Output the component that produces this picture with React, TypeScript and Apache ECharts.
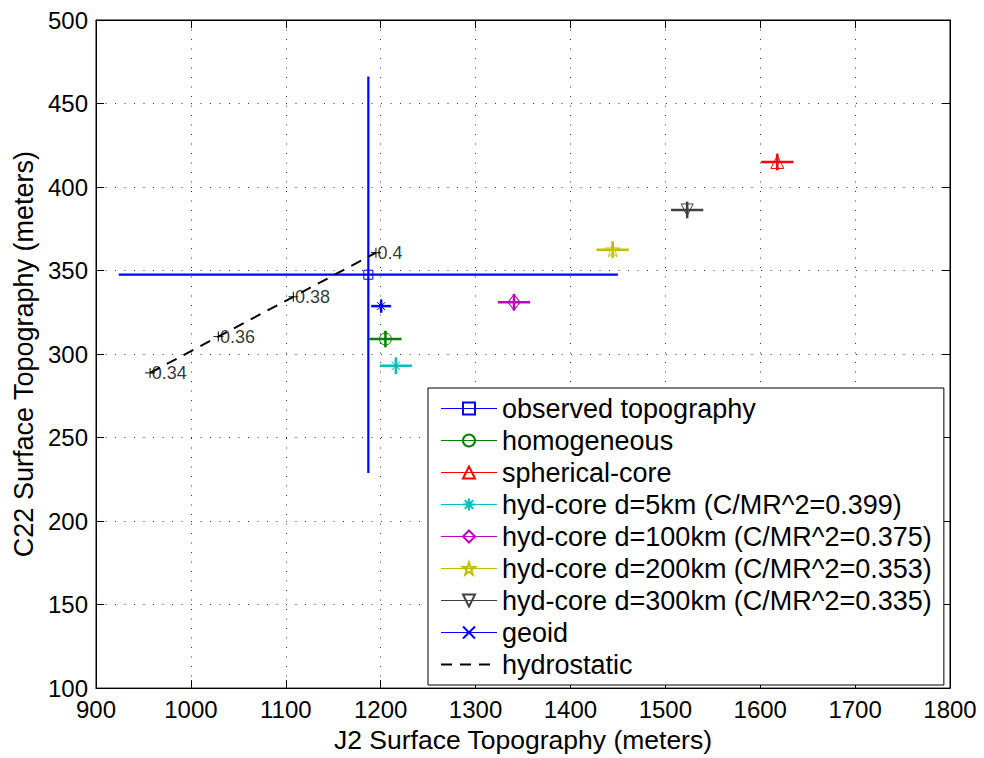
import React, { useEffect, useRef } from "react";
import * as echarts from "echarts";

const FONT = "'Liberation Sans', Arial, Helvetica, sans-serif";

// Model / observation points (J2 topography, C22 topography, errors)
const seriesNames = [
  "observed topography",
  "homogeneous",
  "spherical-core",
  "hyd-core d=5km (C/MR^2=0.399)",
  "hyd-core d=100km (C/MR^2=0.375)",
  "hyd-core d=200km (C/MR^2=0.353)",
  "hyd-core d=300km (C/MR^2=0.335)",
  "geoid",
];
const j2Values = [1187, 1205, 1618, 1216, 1340.5, 1444.5, 1523, 1200.5];
const c22Values = [347.5, 309, 415, 293, 331, 362.5, 386.3, 328.7];
const j2Errors = [263, 17, 17, 17, 17, 17, 17, 10.5];
const c22Errors = [118.7, 5, 5, 5, 5, 5, 5, 4];
const seriesColors = ["#0000ff", "#008000", "#ff0000", "#00bfbf", "#bf00bf", "#bfbf00", "#404040", "#0000ff"];

// Hydrostatic curve
const hydroName = "hydrostatic";
const hydroJ2 = [957, 1029, 1108, 1195];
const hydroC22 = [288.7, 310.5, 334.3, 360.7];
const hydroLabels = ["0.34", "0.36", "0.38", "0.4"];

// Axes
const X_MIN = 900, X_MAX = 1800, X_STEP = 100;
const Y_MIN = 100, Y_MAX = 500, Y_STEP = 50;

const SYM_ASTERISK = "path://M5,0L5,10M0,5L10,5M1.5,1.5L8.5,8.5M8.5,1.5L1.5,8.5";
const SYM_X = "path://M0,0L10,10M10,0L0,10";
const SYM_PLUS = "path://M5,0L5,10M0,5L10,5";
const SYM_DOWN = "path://M0,0L10,0L5,8.66Z";
const SYM_STAR =
  "path://M50,0L61.2,34.5L97.6,34.5L68.2,55.9L79.4,90.5L50,69.1L20.6,90.5L31.8,55.9L2.4,34.5L38.8,34.5Z";

const symbols: any[] = ["rect", "circle", "triangle", SYM_ASTERISK, "diamond", SYM_STAR, SYM_DOWN, SYM_X];
const symbolSizes: any[] = [9, 12, 13, 12, [12, 16], 14, 12, 8];

export default function App() {
  const ref = useRef<HTMLDivElement>(null);
  useEffect(() => {
    if (!ref.current) return;
    const chart = echarts.init(ref.current, undefined, { renderer: "svg" });

    const errorSeries = seriesNames.map((n, i) => ({
      type: "custom",
      name: "err-" + i,
      xAxisIndex: 0,
      yAxisIndex: 0,
      z: 2,
      silent: true,
      data: [[j2Values[i], c22Values[i], j2Errors[i], c22Errors[i]]],
      renderItem: (_p: any, api: any) => {
        const x = api.value(0), y = api.value(1), ex = api.value(2), ey = api.value(3);
        const l = api.coord([x - ex, y]);
        const r = api.coord([x + ex, y]);
        const t = api.coord([x, y + ey]);
        const b = api.coord([x, y - ey]);
        const w = i === 0 ? 2.2 : 2.5;
        return {
          type: "group",
          children: [
            { type: "line", shape: { x1: l[0], y1: l[1], x2: r[0], y2: r[1] }, style: { stroke: seriesColors[i], lineWidth: w } },
            { type: "line", shape: { x1: t[0], y1: t[1], x2: b[0], y2: b[1] }, style: { stroke: seriesColors[i], lineWidth: w } },
          ],
        };
      },
    }));

    const markerSeries = seriesNames.map((n, i) => ({
      type: "line",
      name: n,
      z: 3,
      data: [[j2Values[i], c22Values[i]]],
      symbol: symbols[i],
      symbolSize: symbolSizes[i],
      showSymbol: true,
      lineStyle: { color: seriesColors[i], width: 1 },
      itemStyle: { color: "rgba(0,0,0,0)", borderColor: seriesColors[i], borderWidth: 1 },
    }));

    const hydroLine = {
      type: "line",
      name: hydroName,
      z: 2,
      symbol: "none",
      data: hydroJ2.map((x, i) => [x, hydroC22[i]]),
      lineStyle: { color: "#000", width: 2, type: [11, 8] },
      itemStyle: { color: "#000" },
    };

    const hydroMarks = {
      type: "scatter",
      name: "hydro-marks",
      z: 4,
      symbol: SYM_PLUS,
      symbolSize: 10,
      itemStyle: { color: "rgba(0,0,0,0)", borderColor: "#000", borderWidth: 1.2 },
      data: hydroJ2.map((x, i) => ({ name: hydroLabels[i], value: [x, hydroC22[i]] })),
      label: {
        show: true,
        position: "right",
        distance: -4,
        formatter: "{b}",
        fontFamily: FONT,
        fontSize: 18,
        color: "#000",
      },
    };

    const axisCommon = {
      axisLine: { show: true, lineStyle: { color: "#000", width: 1 } },
      axisTick: { show: true, inside: true, length: 8, lineStyle: { color: "#000" } },
    };

    chart.setOption({
      animation: false,
      backgroundColor: "#fff",
      grid: { left: 96, right: 34, top: 20, bottom: 66, show: true, borderColor: "#000", borderWidth: 1, backgroundColor: "transparent" },
      xAxis: [
        {
          type: "value",
          min: X_MIN,
          max: X_MAX,
          interval: X_STEP,
          position: "bottom",
          ...axisCommon,
          axisLabel: { fontFamily: FONT, fontSize: 24, color: "#000", margin: 9, formatter: (v: number) => String(v) },
          splitLine: { show: true, lineStyle: { color: "#333", width: 1, type: [1, 8.5] } },
          name: "J2 Surface Topography (meters)",
          nameLocation: "middle",
          nameGap: 29,
          nameTextStyle: { fontFamily: FONT, fontSize: 26.5, color: "#000" },
        },
        {
          type: "value",
          min: X_MIN,
          max: X_MAX,
          interval: X_STEP,
          position: "top",
          ...axisCommon,
          axisLabel: { show: false },
          splitLine: { show: false },
        },
      ],
      yAxis: [
        {
          type: "value",
          min: Y_MIN,
          max: Y_MAX,
          interval: Y_STEP,
          position: "left",
          ...axisCommon,
          axisLabel: { fontFamily: FONT, fontSize: 24, color: "#000", margin: 8, formatter: (v: number) => String(v) },
          splitLine: { show: true, lineStyle: { color: "#333", width: 1, type: [1, 8.5] } },
          name: "C22 Surface Topography (meters)",
          nameLocation: "middle",
          nameGap: 59,
          nameTextStyle: { fontFamily: FONT, fontSize: 27, color: "#000" },
        },
        {
          type: "value",
          min: Y_MIN,
          max: Y_MAX,
          interval: Y_STEP,
          position: "right",
          ...axisCommon,
          axisLabel: { show: false },
          splitLine: { show: false },
        },
      ],
      legend: {
        orient: "vertical",
        left: 428,
        top: 388,
        padding: [7, 12, 7, 12],
        itemGap: 5,
        itemWidth: 56,
        itemHeight: 15,
        borderColor: "#000",
        borderWidth: 1,
        borderRadius: 0,
        backgroundColor: "#fff",
        selectedMode: false,
        lineStyle: { width: 1 },
        textStyle: { fontFamily: FONT, fontSize: 27, color: "#000" },
        data: [
          ...seriesNames.map((n) => ({ name: n, lineStyle: { width: 1 } })),
          { name: hydroName, itemStyle: { opacity: 0 }, lineStyle: { width: 2 } },
        ],
      },
      series: [...errorSeries, hydroLine, ...markerSeries, hydroMarks],
    });
    return () => chart.dispose();
  }, []);
  return <div ref={ref} style={{ position: "fixed", left: 0, top: 0, width: 984, height: 758 }} />;
}
